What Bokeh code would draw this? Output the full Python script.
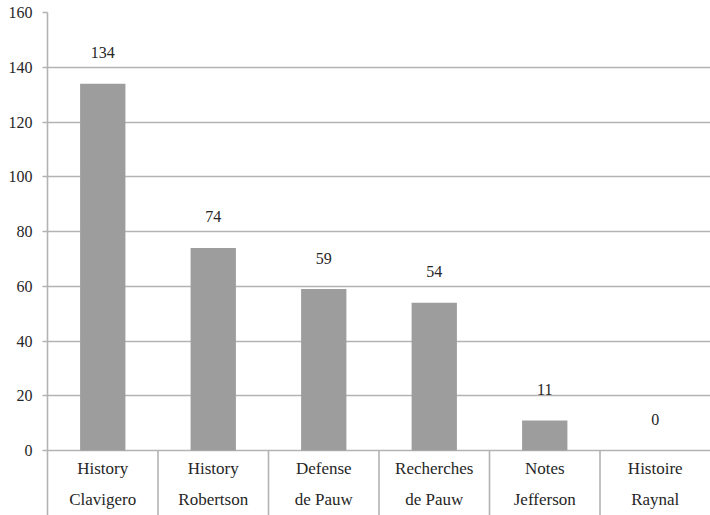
from bokeh.plotting import figure
from bokeh.models import Range1d, FixedTicker, ColumnDataSource
from bokeh.core.properties import value
from bokeh.embed import file_html
from bokeh.resources import INLINE

line1 = ["History", "History", "Defense", "Recherches", "Notes", "Histoire"]
line2 = ["Clavigero", "Robertson", "de Pauw", "de Pauw", "Jefferson", "Raynal"]
counts = [134, 74, 59, 54, 11, 0]
y_ticks = [0, 20, 40, 60, 80, 100, 120, 140, 160]

FONT_NAME = "Liberation Serif"
FONT = value(FONT_NAME)
GRID = "#b3b3b3"
TEXT = "#262626"
FS = "17px"

n = len(counts)
xs = [i + 0.5 for i in range(n)]
src = ColumnDataSource(dict(
    x=xs, top=counts, lbl=[str(c) for c in counts],
    l1=line1, l2=line2,
))

p = figure(width=710, height=515, output_backend="svg", toolbar_location=None,
           x_range=Range1d(0, n), y_range=Range1d(-23.7, 160),
           min_border_left=47, min_border_right=0, min_border_top=12,
           min_border_bottom=0)
p.outline_line_color = None
p.xaxis.visible = False
p.xgrid.visible = False

p.ygrid.ticker = FixedTicker(ticks=y_ticks)
p.ygrid.grid_line_color = GRID
p.ygrid.grid_line_width = 1.6
p.yaxis.ticker = FixedTicker(ticks=y_ticks)
p.yaxis.axis_line_color = GRID
p.yaxis.axis_line_width = 1.6
p.yaxis.major_tick_line_color = GRID
p.yaxis.major_tick_line_width = 1.6
p.yaxis.major_tick_out = 5
p.yaxis.major_tick_in = 0
p.yaxis.minor_tick_line_color = None
p.yaxis.major_label_text_font = FONT_NAME
p.yaxis.major_label_text_font_size = "16px"
p.yaxis.major_label_text_color = TEXT
p.yaxis.major_label_standoff = 10

p.vbar(x="x", top="top", bottom=0, width=0.41, source=src,
       fill_color="#9d9d9d", line_color=None)

# value labels above bars
p.text(x="x", y="top", text="lbl", source=src, y_offset=-31,
       text_align="center", text_baseline="middle", text_font=FONT,
       text_font_size="16px", text_color=TEXT)

# category labels (two lines)
p.text(x="x", y=0, text="l1", source=src, y_offset=18,
       text_align="center", text_baseline="middle", text_font=FONT,
       text_font_size=FS, text_color=TEXT)
p.text(x="x", y=0, text="l2", source=src, y_offset=49,
       text_align="center", text_baseline="middle", text_font=FONT,
       text_font_size=FS, text_color=TEXT)

# category separators below the axis
bounds = list(range(1, n))
p.segment(x0=bounds, y0=[0] * len(bounds), x1=bounds, y1=[-23.7] * len(bounds),
          line_color=GRID, line_width=1.6)

open("out.html", "w").write(file_html(p, INLINE))
